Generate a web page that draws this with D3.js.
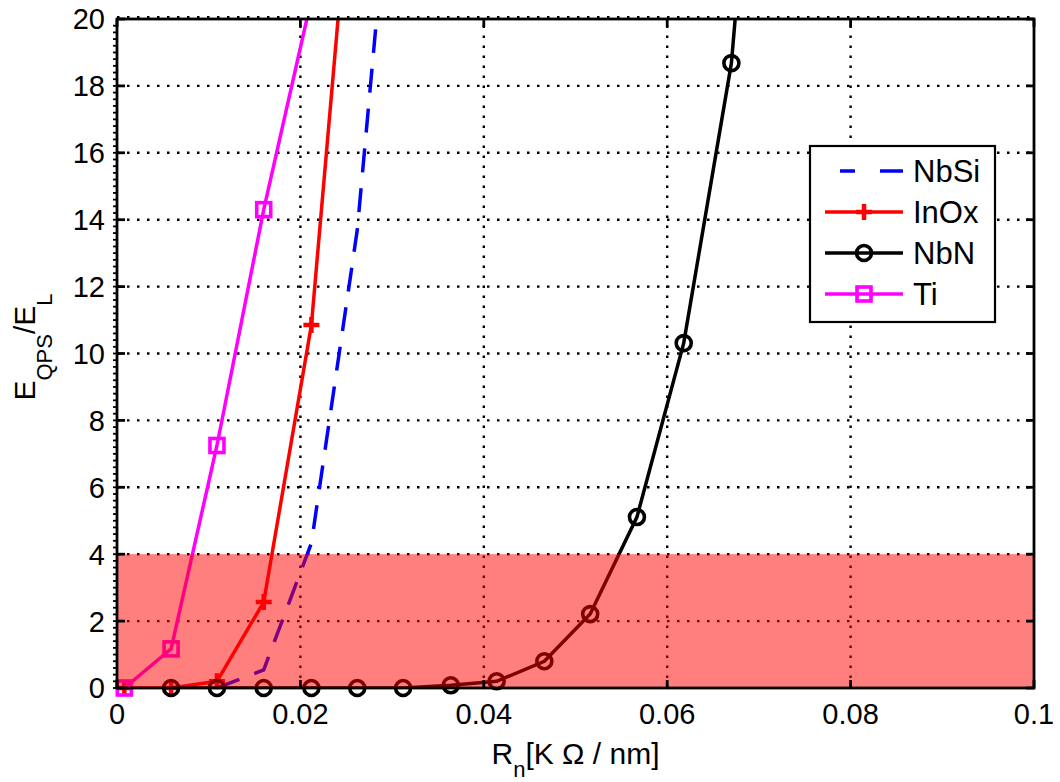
<!DOCTYPE html>
<html><head><meta charset="utf-8">
<script src="https://cdn.jsdelivr.net/npm/d3@7"></script>
<style>body{margin:0;background:#fff}text{font-family:"Liberation Sans",Arial,sans-serif;fill:#000}</style>
</head><body><svg id="c" width="1060" height="782"></svg>
<script>
const xTicks=[0,0.02,0.04,0.06,0.08,0.1];
const xTickLabels=["0","0.02","0.04","0.06","0.08","0.1"];
const yTicks=[0,2,4,6,8,10,12,14,16,18,20];
const seriesNames=["NbSi","InOx","NbN","Ti"];
const nbsiX=[0.0109,0.0160,0.0212,0.0262,0.0282];
const nbsiY=[0,0.54,4.33,13.69,19.69];
const inoxX=[0.0008,0.0059,0.0109,0.0160,0.0212,0.0263];
const inoxY=[0,0,0.2,2.57,10.85,26.9];
const nbnX=[0.0059,0.0109,0.0160,0.0212,0.0262,0.0312,0.0364,0.0414,0.0466,0.0516,0.0567,0.0618,0.0670,0.0721];
const nbnY=[0,0,0,0,0,0,0.08,0.2,0.8,2.21,5.11,10.31,18.68,35];
const tiX=[0.0008,0.0059,0.0109,0.0160,0.0212];
const tiY=[0,1.17,7.25,14.3,20.6];
const bandRange=[0,4];

const L=117,R=1034,T=19,B=688;
const svg=d3.select("#c");
const x=d3.scaleLinear([0,0.1],[L,R]);
const y=d3.scaleLinear([0,20],[B,T]);
svg.append("defs").append("clipPath").attr("id","cp").append("rect")
  .attr("x",L).attr("y",T).attr("width",R-L).attr("height",B-T);

// grid
const dash="2.5,7.5";
const g=svg.append("g").attr("stroke","#000").attr("stroke-width",2.4).attr("stroke-dasharray",dash);
xTicks.slice(1,-1).forEach(v=>g.append("line").attr("x1",x(v)).attr("x2",x(v)).attr("y1",B).attr("y2",T));
yTicks.slice(1,-1).forEach(v=>g.append("line").attr("y1",y(v)).attr("y2",y(v)).attr("x1",L).attr("x2",R));
svg.append("line").attr("x1",L).attr("x2",R).attr("y1",T-2).attr("y2",T-2)
  .attr("stroke","#000").attr("stroke-width",2).attr("stroke-dasharray",dash);

const line=d3.line().x(d=>x(d[0])).y(d=>y(d[1]));
const zip=(a,b)=>a.map((v,i)=>[v,b[i]]);
const data=[
  {name:"NbSi",pts:zip(nbsiX,nbsiY),color:"#0000ff",dash:"24,16",marker:null},
  {name:"InOx",pts:zip(inoxX,inoxY),color:"#ff0000",dash:null,marker:"plus"},
  {name:"NbN",pts:zip(nbnX,nbnY),color:"#000000",dash:null,marker:"circle"},
  {name:"Ti",pts:zip(tiX,tiY),color:"#ff00ff",dash:null,marker:"square"}
];
function drawMarker(sel,type,color,cx,cy){
  if(type==="plus"){
    sel.append("path").attr("d",`M${cx-8},${cy}H${cx+8}M${cx},${cy-8}V${cy+8}`)
      .attr("stroke",color).attr("stroke-width",4.5).attr("fill","none");
  }else if(type==="circle"){
    sel.append("circle").attr("cx",cx).attr("cy",cy).attr("r",7.5)
      .attr("stroke",color).attr("stroke-width",3.6).attr("fill","none");
  }else if(type==="square"){
    sel.append("rect").attr("x",cx-7).attr("y",cy-7).attr("width",14).attr("height",14)
      .attr("stroke",color).attr("stroke-width",3.6).attr("fill","none");
  }
}
data.forEach(s=>{
  const p=svg.append("path").attr("d",line(s.pts)).attr("fill","none")
    .attr("stroke",s.color).attr("stroke-width",3.5).attr("clip-path","url(#cp)");
  if(s.dash)p.attr("stroke-dasharray",s.dash);
  if(s.marker){
    const mg=svg.append("g");
    s.pts.filter(d=>d[1]<=20&&d[0]<=0.1).forEach(d=>drawMarker(mg,s.marker,s.color,x(d[0]),y(d[1])));
  }
});

// band
svg.append("rect").attr("x",L).attr("y",y(bandRange[1])).attr("width",R-L)
  .attr("height",y(bandRange[0])-y(bandRange[1])).attr("fill","#ff0000").attr("fill-opacity",0.5);

// axes box and ticks
const ax=svg.append("g").attr("stroke","#000");
ax.append("rect").attr("x",L).attr("y",T).attr("width",R-L).attr("height",B-T)
  .attr("fill","none").attr("stroke-width",2.8);
xTicks.forEach(v=>{
  ax.append("line").attr("x1",x(v)).attr("x2",x(v)).attr("y1",B).attr("y2",B-8).attr("stroke-width",2.8);
  ax.append("line").attr("x1",x(v)).attr("x2",x(v)).attr("y1",T).attr("y2",T+8).attr("stroke-width",2.8);
});
yTicks.forEach(v=>{
  ax.append("line").attr("y1",y(v)).attr("y2",y(v)).attr("x1",L).attr("x2",L+8).attr("stroke-width",2.8);
  ax.append("line").attr("y1",y(v)).attr("y2",y(v)).attr("x1",R).attr("x2",R-8).attr("stroke-width",2.8);
});
d3.range(0,100).map(i=>i*0.2).forEach(v=>{
  ax.append("line").attr("y1",y(v)).attr("y2",y(v)).attr("x1",L-4).attr("x2",L).attr("stroke-width",1.8);
});

// tick labels
xTicks.forEach((v,i)=>svg.append("text").attr("x",x(v)).attr("y",724).attr("text-anchor","middle")
  .attr("font-size",29).text(xTickLabels[i]));
yTicks.forEach(v=>svg.append("text").attr("x",105).attr("y",y(v)).attr("dy","0.36em")
  .attr("text-anchor","end").attr("font-size",29).text(v));

// axis labels
const xl=svg.append("text").attr("x",575.5).attr("y",764).attr("text-anchor","middle").attr("font-size",30);
xl.append("tspan").text("R");
xl.append("tspan").attr("font-size",22).attr("dy",13).text("n");
xl.append("tspan").attr("dy",-13).text("[K Ω / nm]");
const yl=svg.append("text").attr("transform","translate(35,347) rotate(-90)").attr("text-anchor","middle").attr("font-size",30);
yl.append("tspan").text("E");
yl.append("tspan").attr("font-size",22).attr("dy",17).text("QPS");
yl.append("tspan").attr("dy",-17).text("/E");
yl.append("tspan").attr("font-size",22).attr("dy",17).text("L");

// legend
const lg=svg.append("g");
lg.append("rect").attr("x",810).attr("y",146).attr("width",185).attr("height",176)
  .attr("fill","#fff").attr("stroke","#000").attr("stroke-width",2.2);
const ly=[171,212,253,294];
data.forEach((s,i)=>{
  const l=lg.append("line").attr("y1",ly[i]).attr("y2",ly[i]).attr("stroke",s.color).attr("stroke-width",3.5);
  if(s.dash) l.attr("x1",840).attr("x2",903).attr("stroke-dasharray","15,25,23");
  else l.attr("x1",825).attr("x2",903);
  if(s.marker) drawMarker(lg,s.marker,s.color,864,ly[i]);
  lg.append("text").attr("x",913).attr("y",ly[i]).attr("dy","0.36em").attr("font-size",31).text(seriesNames[i]);
});
</script></body></html>
